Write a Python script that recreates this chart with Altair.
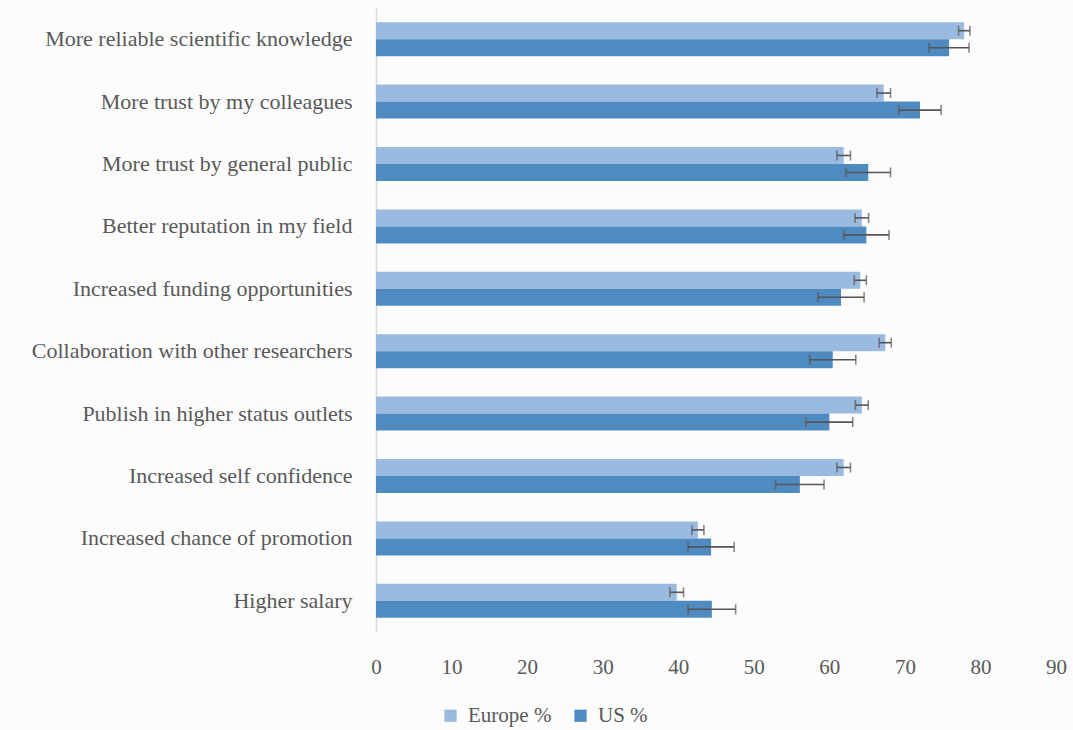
import altair as alt
import pandas as pd

# Perceived benefits of open research practices, by region (share of respondents, %)
categories = [
    "More reliable scientific knowledge",
    "More trust by my colleagues",
    "More trust by general public",
    "Better reputation in my field",
    "Increased funding opportunities",
    "Collaboration with other researchers",
    "Publish in higher status outlets",
    "Increased self confidence",
    "Increased chance of promotion",
    "Higher salary",
]
series_names = ["Europe %", "US %"]

europe = [77.85, 67.2, 61.9, 64.3, 64.1, 67.4, 64.3, 61.9, 42.6, 39.8]
europe_err = [0.75, 0.9, 0.9, 0.9, 0.8, 0.8, 0.85, 0.9, 0.8, 0.9]
us = [75.85, 72.0, 65.15, 64.9, 61.55, 60.45, 60.0, 56.1, 44.35, 44.45]
us_err = [2.65, 2.8, 2.95, 3.0, 3.05, 3.05, 3.1, 3.2, 3.05, 3.15]

rows = []
for i, cat in enumerate(categories):
    for name, vals, errs in (("Europe %", europe, europe_err), ("US %", us, us_err)):
        rows.append({
            "category": cat,
            "series": name,
            "value": vals[i],
            "lo": vals[i] - errs[i],
            "hi": vals[i] + errs[i],
        })
df = pd.DataFrame(rows)

FONT = "Liberation Serif"
TEXT = "#595959"

y_enc = alt.Y(
    "category:N",
    sort=categories,
    scale=alt.Scale(paddingInner=0.455, paddingOuter=0.2275),
    axis=alt.Axis(
        title=None, ticks=False, grid=False,
        domain=True, domainColor="#d9d9d9", domainWidth=1.5,
        labelFont=FONT, labelFontSize=22, labelColor=TEXT, labelPadding=24,
        labelLimit=400,
    ),
)
y_off = alt.YOffset("series:N", sort=series_names,
                    scale=alt.Scale(paddingInner=0, paddingOuter=0))
x_scale = alt.Scale(domain=[0, 90], nice=False)
x_axis = alt.Axis(
    title=None, values=list(range(0, 91, 10)), grid=False, domain=False,
    ticks=False, labelFlush=False, labelFont=FONT, labelFontSize=21,
    labelColor=TEXT, labelPadding=24,
)

bars = alt.Chart(df).mark_bar().encode(
    y=y_enc,
    yOffset=y_off,
    x=alt.X("value:Q", scale=x_scale, axis=x_axis),
    color=alt.Color(
        "series:N",
        scale=alt.Scale(domain=series_names, range=["#9bbae0", "#4f8bc1"]),
        legend=alt.Legend(
            title=None, orient="none", legendX=64, legendY=697,
            direction="horizontal", symbolType="square", symbolSize=150,
            symbolStrokeWidth=0, labelFont=FONT, labelFontSize=21,
            labelColor=TEXT, labelOffset=7, columnPadding=18,
        ),
    ),
)

whisker = alt.Chart(df).mark_rule(color="#555555", strokeWidth=1.6).encode(
    y=alt.Y("category:N", sort=categories),
    yOffset=y_off,
    x=alt.X("lo:Q", scale=x_scale),
    x2="hi:Q",
)

caps = alt.Chart(df).transform_fold(["lo", "hi"], as_=["end", "pos"]).mark_tick(
    color="#555555", thickness=1.6, size=10, orient="vertical"
).encode(
    y=alt.Y("category:N", sort=categories),
    yOffset=y_off,
    x=alt.X("pos:Q", scale=x_scale),
)

chart = alt.layer(bars, whisker, caps).properties(
    width=680,
    height=624,
    autosize=alt.AutoSizeParams(type="none"),
    padding={"left": 376, "top": 8, "right": 17, "bottom": 98},
    background="#fcfcfc",
).configure_view(stroke=None).configure_legend(
    labelFont=FONT, labelFontSize=21, labelColor=TEXT
).configure_axis(labelFont=FONT)

chart.save("out.html", embed_options={"renderer": "svg", "actions": False})
